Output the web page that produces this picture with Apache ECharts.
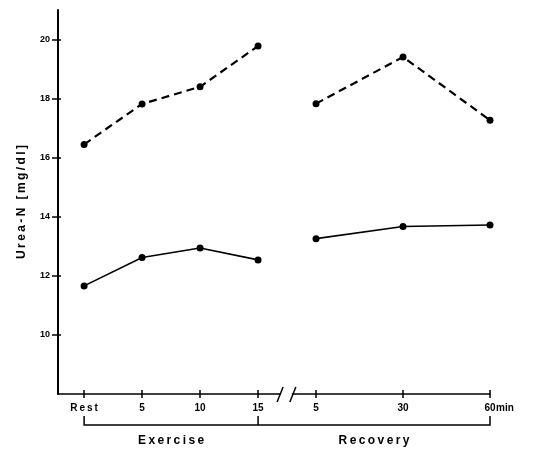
<!DOCTYPE html>
<html><head><meta charset="utf-8">
<script src="https://cdn.jsdelivr.net/npm/echarts@6/dist/echarts.min.js"></script>
<style>html,body{margin:0;padding:0;background:#fff}#c{width:534px;height:451px}</style>
</head><body><div id="c"></div>
<script>
// ---- data ----
const xLabels = ['Rest', '5', '10', '15', '5', '30', '60'];
const xPos = [0, 1, 2, 3, 4, 5.5, 7];          // axis positions of the time points (broken axis)
const phaseOf = ['Exercise', 'Exercise', 'Exercise', 'Exercise', 'Recovery', 'Recovery', 'Recovery'];
const upperValues = [16.45, 17.82, 18.40, 19.78, 17.83, 19.41, 17.27];   // dashed line
const lowerValues = [11.66, 12.62, 12.94, 12.54, 13.26, 13.67, 13.72];   // solid line
const yTicks = [10, 12, 14, 16, 18, 20];
const phases = ['Exercise', 'Recovery'];
const yName = 'Urea-N [mg/dl]';

const FONT = 'Liberation Sans';
const spaced = s => s.split('').join('\u2009');

function segment(vals, phase) {
  const out = [];
  vals.forEach((v, i) => { if (phaseOf[i] === phase) out.push([xPos[i], v]); });
  return out;
}
const labelMap = {};
xPos.forEach((p, i) => labelMap[p] = xLabels[i]);

const chart = echarts.init(document.getElementById('c'));
const series = [];
phases.forEach(ph => {
  series.push({
    type: 'line', data: segment(upperValues, ph), symbol: 'circle', symbolSize: 7,
    itemStyle: { color: '#000' }, lineStyle: { color: '#000', width: 2.2, type: [8, 5] }
  });
  series.push({
    type: 'line', data: segment(lowerValues, ph), symbol: 'circle', symbolSize: 7,
    itemStyle: { color: '#000' }, lineStyle: { color: '#000', width: 1.6 }
  });
});

const xCommon = { type: 'value', min: -0.45, max: 7, splitLine: { show: false } };
chart.setOption({
  animation: false,
  grid: { left: 58, right: 44, top: 10, bottom: 57 },
  xAxis: [
    Object.assign({}, xCommon, {
      axisLine: { onZero: false, lineStyle: { color: '#000', width: 1.5 } },
      axisTick: { customValues: xPos, length: 4, lineStyle: { color: '#000', width: 1.5 } },
      axisLabel: {
        customValues: xPos, margin: 9, color: '#000', fontFamily: FONT, fontWeight: 'bold', fontSize: 10,
        formatter: v => { const l = labelMap[v]; return l === 'Rest' ? spaced(l) : (l || ''); }
      }
    }),
    Object.assign({}, xCommon, {
      position: 'bottom', axisLine: { show: false, onZero: false }, axisLabel: { show: false },
      axisTick: { customValues: xPos, inside: true, length: 4, lineStyle: { color: '#000', width: 1.5 } }
    })
  ],
  yAxis: [
    {
      type: 'value', min: 8, max: 21, splitLine: { show: false }, position: 'left',
      axisLine: { show: true, onZero: false, lineStyle: { color: '#000', width: 2 } },
      axisTick: { customValues: yTicks, length: 6, lineStyle: { color: '#000', width: 1.5 } },
      axisLabel: { customValues: yTicks, margin: 8, color: '#000', fontFamily: FONT, fontWeight: 'bold', fontSize: 9 },
      name: spaced(yName), nameLocation: 'middle', nameGap: 30, nameRotate: 90,
      nameTextStyle: { color: '#000', fontFamily: FONT, fontWeight: 'bold', fontSize: 12 }
    },
    {
      type: 'value', min: 8, max: 21, position: 'left', splitLine: { show: false },
      axisLine: { show: false, onZero: false }, axisLabel: { show: false },
      axisTick: { customValues: yTicks, inside: true, length: 3, lineStyle: { color: '#000', width: 1.5 } }
    }
  ],
  series: series
});

// ---- annotations: axis break, phase brackets ----
const px = x => chart.convertToPixel({ xAxisIndex: 0 }, x);
const axisY = chart.convertToPixel({ yAxisIndex: 0 }, 8);
const gx = [px(xPos[0]), px(xPos[3]), px(xPos[6])];
const b1 = px((xPos[3] + xPos[4]) / 2 - 0.12), b2 = px((xPos[3] + xPos[4]) / 2 + 0.1);
const brY = axisY + 31, brTop = axisY + 22;
const ls = { stroke: '#000', lineWidth: 1.5 };
const graphic = [
  { type: 'rect', shape: { x: b1 + 1, y: axisY - 3, width: b2 - b1 - 2, height: 6 }, style: { fill: '#fff' }, z: 100 },
  { type: 'line', shape: { x1: b1 - 3, y1: axisY + 8, x2: b1 + 3, y2: axisY - 7 }, style: ls, z: 101 },
  { type: 'line', shape: { x1: b2 - 3, y1: axisY + 8, x2: b2 + 3, y2: axisY - 7 }, style: ls, z: 101 },
  { type: 'polyline', shape: { points: [[gx[0], brTop], [gx[0], brY], [gx[2], brY], [gx[2], brTop]] }, style: Object.assign({ fill: null }, ls) },
  { type: 'line', shape: { x1: gx[1], y1: brTop, x2: gx[1], y2: brY }, style: ls },
  { type: 'text', x: (gx[0] + gx[1]) / 2, y: brY + 16, style: { text: spaced(phases[0]), fill: '#000', font: 'bold 12px ' + FONT, align: 'center', verticalAlign: 'middle' } },
  { type: 'text', x: (gx[1] + gx[2]) / 2, y: brY + 16, style: { text: spaced(phases[1]), fill: '#000', font: 'bold 12px ' + FONT, align: 'center', verticalAlign: 'middle' } },
  { type: 'text', x: gx[2] + 6, y: axisY + 14, style: { text: 'min', fill: '#000', font: 'bold 10px ' + FONT, align: 'left', verticalAlign: 'middle' } }
];
chart.setOption({ graphic: graphic });
</script></body></html>
